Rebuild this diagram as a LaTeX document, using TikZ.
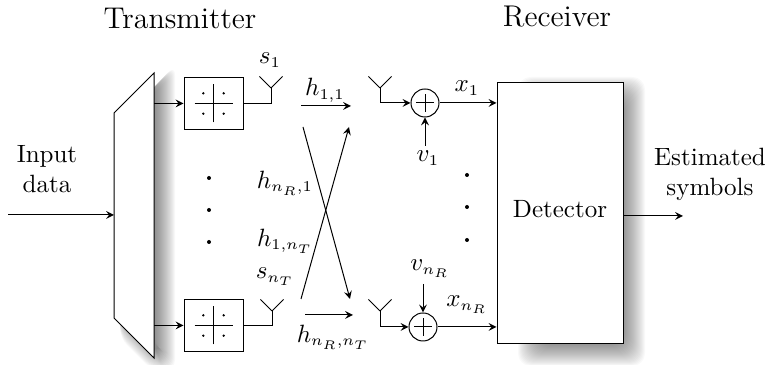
\documentclass[tikz,border=0pt]{standalone}
\usepackage{amsmath}
\DeclareMathSizes{10}{10}{6}{5}
\tikzset{
  mapbox/.style={draw, fill=white, minimum width=23.6pt, minimum height=21pt, inner sep=0pt},
  adder/.style={draw, circle, minimum size=11.2pt, inner sep=0pt},
  detbox/.style={draw, fill=white, minimum width=50.4pt, minimum height=104.4pt, inner sep=0pt, text depth=4pt},
  title/.style={font=\large},
  sym/.style={inner sep=0pt},
  conn/.style={-stealth}
}
\begin{document}
\begin{tikzpicture}[x=4pt, y=4pt]
\useasboundingbox (0,0) rectangle (76.5,36.5);

% Soft shadows
\foreach \i in {0,...,21} {
  \fill[black, opacity=0.027, rounded corners=4pt] ({17.5-\i*0.1},{30-\i*0.1}) -- (12,24) -- (12,{2.7+\i*0.14}) --
    ({15.2+\i*0.04},{-0.5+\i*0.1}) -- ({17.5-\i*0.1},{-0.5+\i*0.1}) -- cycle;
  \fill[black, opacity=0.022, rounded corners=5pt] ({51.8+\i*0.1},{-0.1+\i*0.1}) rectangle ({64.5-\i*0.1},{28.8-\i*0.1});
}

% Splitter
\coordinate (muxa) at (15.4,29.2);
\coordinate (muxb) at (11.4,25.2);
\coordinate (muxc) at (11.4,4.7);
\coordinate (muxd) at (15.4,0.7);
\filldraw[fill=white] (muxa) -- (muxb) -- (muxc) -- (muxd) -- cycle;

% Titles
\node[title] (tx) at (18,34.7) {Transmitter};
\node[title] (rx) at (55.7,34.8) {Receiver};

% Mapping blocks
\node[mapbox] (map1) at (21.35,26.15) {};
\node[mapbox] (mapN) at (21.35,3.95) {};
\foreach \b in {map1,mapN} {
  \draw[shift={(\b)}] (-1.9,0) -- (1.9,0);
  \draw[shift={(\b)}] (0,-1.9) -- (0,1.9);
  \foreach \sx in {-1,1} \foreach \sy in {-1,1}
    \fill[shift={(\b)}] (\sx*1.02,\sy*1.02) circle (0.13);
}

% Antennas
\coordinate (ant1) at (27.1,27.7);
\coordinate (antN) at (27.2,5.4);
\coordinate (rec1) at (38,27.7);
\coordinate (recN) at (38,5.4);
\foreach \a in {ant1,antN,rec1,recN}
  \draw (\a) -- ++(-1.15,1.15) (\a) -- ++(1.15,1.15);
\draw (map1) -| (ant1);
\draw (mapN) -| (antN);

% Adders
\node[adder] (add1) at (42.5,26.2) {};
\node[adder] (addN) at (42.3,3.8) {};
\foreach \b in {add1,addN} {
  \draw[shift={(\b)}] (-0.9,0) -- (0.9,0);
  \draw[shift={(\b)}] (0,-0.9) -- (0,0.9);
}
\draw[conn] (rec1) |- (add1);
\draw[conn] (recN) |- (addN);

% Detector
\node[detbox] (det) at (56,15.15) {Detector};
\draw[conn] (add1) -- (add1 -| det.west);
\draw[conn] (addN) -- (addN -| det.west);

% Splitter connections
\draw[conn] (map1 -| muxa) -- (map1);
\draw[conn] (mapN -| muxa) -- (mapN);

% Input and output
\coordinate (indata) at (0.8,15);
\coordinate (outdata) at (68.3,14.9);
\draw[conn] (indata) -- (indata -| muxb);
\draw[conn] (outdata -| det.east) -- (outdata);
\node[align=center, inner sep=0pt] (inlabel) at (4.7,19.6) {Input\\data};
\node[align=center, inner sep=0pt] (outlabel) at (71,19.1) {Estimated\\symbols};

% Noise inputs
\coordinate (v1a) at (42.5,21.9);
\coordinate (vNa) at (42.3,8.1);
\draw[conn] (v1a) -- (add1);
\draw[conn] (vNa) -- (addN);
\node[sym] (v1) at (42.8,20.7) {$v_1$};
\node[sym] (vN) at (43,9.6) {$v_{n_R}$};

% Symbols
\node[sym] (s1) at (27,30.5) {$s_1$};
\node[sym] (sN) at (27.5,8.8) {$s_{n_T}$};
\node[sym] (x1) at (46.7,27.7) {$x_1$};
\node[sym] (xN) at (46.7,6) {$x_{n_R}$};

% Channel
\coordinate (cha) at (30.1,25.9);
\coordinate (chb) at (35.1,25.9);
\coordinate (chc) at (30.5,5);
\coordinate (chd) at (35.3,5);
\coordinate (che) at (30.3,23.8);
\coordinate (chf) at (35,6.6);
\coordinate (chg) at (30.1,6.6);
\coordinate (chh) at (34.9,23.8);
\draw[conn] (cha) -- (chb);
\draw[conn] (chc) -- (chd);
\draw[conn] (che) -- (chf);
\draw[conn] (chg) -- (chh);
\node[sym] (h11) at (32.5,27.5) {$h_{1,1}$};
\node[sym] (hN1) at (28.5,18.2) {$h_{n_R,1}$};
\node[sym] (h1N) at (28.5,12.4) {$h_{1,n_T}$};
\node[sym] (hNN) at (33.3,2.8) {$h_{n_R,n_T}$};

% Dots
\foreach \y in {18.7,15.5,12.3} \fill (20.9,\y) circle (0.2);
\foreach \y in {19,15.8,12.5} \fill (46.7,\y) circle (0.2);
\end{tikzpicture}
\end{document}
